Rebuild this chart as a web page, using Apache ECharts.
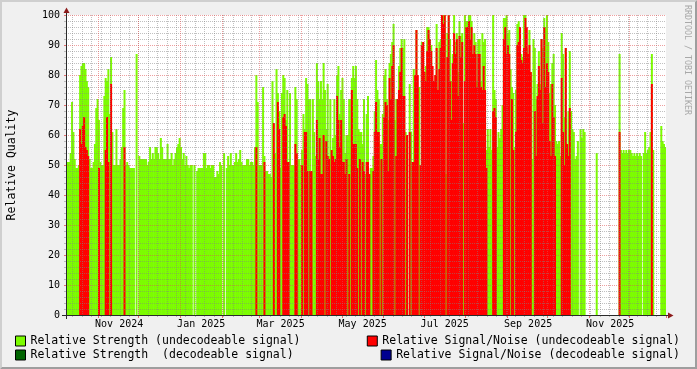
<!DOCTYPE html>
<html>
<head>
<meta charset="utf-8">
<script src="https://cdn.jsdelivr.net/npm/echarts@6/dist/echarts.min.js"></script>
<style>
html,body{margin:0;padding:0;background:#f0f0f0;}
#chart{width:697px;height:369px;}
</style>
</head>
<body>
<div id="chart"></div>
<script>
const _ = null;
// Daily categories: 446 days starting 2024-10-08
const startDate = '2024-10-08';
const dayCount = 446;
const tickLabels = ['Nov 2024', 'Jan 2025', 'Mar 2025', 'May 2025', 'Jul 2025', 'Sep 2025', 'Nov 2025'];
const yTicks = [0, 10, 20, 30, 40, 50, 60, 70, 80, 90, 100];

const nameStrengthU = 'Relative Strength (undecodeable signal)';
const nameStrengthD = 'Relative Strength  (decodeable signal)';
const nameSnrU = 'Relative Signal/Noise (undecodeable signal)';
const nameSnrD = 'Relative Signal/Noise (decodeable signal)';

// Relative Strength (undecodeable signal), one value per day
const strengthUndecodeable = [
  50,51,51,54,71,61,52,49,49,50,
  80,83,84,84,82,78,76,52,49,49,
  51,57,69,72,65,51,50,50,73,79,
  78,82,67,86,61,50,50,62,50,50,
  52,56,69,75,50,51,50,49,49,49,
  49,_,87,_,53,52,52,52,52,52,
  50,51,56,52,54,52,56,56,54,52,
  59,56,52,52,52,57,52,52,54,50,
  52,54,56,57,59,56,52,54,50,53,
  50,49,50,50,_,50,_,48,49,49,
  49,49,54,54,49,50,50,49,50,50,
  46,46,48,47,51,50,_,54,_,49,
  53,50,54,50,50,51,54,51,52,55,
  51,50,50,50,52,52,50,51,51,50,
  56,80,71,50,50,50,76,53,48,48,
  47,47,46,78,54,54,82,74,68,49,
  74,80,79,65,75,51,74,50,50,50,
  76,72,52,52,50,55,67,62,79,77,
  72,72,47,72,61,53,84,78,72,78,
  72,84,75,62,77,53,72,47,59,72,
  60,80,83,67,75,79,72,54,60,60,
  72,72,79,83,79,83,72,62,61,61,
  57,72,47,67,73,46,49,49,53,68,
  85,75,72,57,57,67,80,82,72,65,
  84,87,91,97,65,72,72,83,89,92,
  89,92,61,58,_,77,61,47,82,76,
  95,76,76,50,91,91,75,83,96,96,
  92,90,56,78,80,97,75,91,92,100,
  100,100,47,94,100,92,78,87,100,91,
  94,81,98,93,94,64,100,98,98,100,
  100,98,87,94,91,78,92,92,78,94,
  91,92,55,62,56,62,55,100,75,72,
  56,61,59,62,70,99,99,100,94,95,
  82,76,74,56,75,97,98,95,87,86,
  100,100,89,87,95,81,52,92,89,72,
  77,88,77,92,89,99,96,100,91,74,
  77,84,87,70,58,57,58,53,94,87,
  66,89,57,68,88,68,62,61,52,53,
  58,_,62,59,62,61,_,_,_,_,
  _,_,_,_,54,_,_,_,_,_,
  _,_,_,_,_,_,_,_,_,_,
  _,87,55,54,55,54,55,54,55,55,
  54,53,54,53,54,53,54,53,_,54,
  61,54,55,56,61,87,55,_,_,_,
  _,_,63,58,57,56
];

// Relative Signal/Noise (undecodeable signal), one value per day
const snrUndecodeable = [
  _,_,_,_,_,_,_,_,_,_,
  62,57,63,66,56,55,53,_,_,_,
  _,_,_,_,49,_,_,_,_,55,
  66,51,_,77,_,_,_,_,_,_,
  _,_,_,56,_,_,_,_,_,_,
  _,_,_,_,_,_,_,_,_,_,
  _,_,_,_,_,_,_,_,_,_,
  _,_,_,_,_,_,_,_,_,_,
  _,_,_,_,_,_,_,_,_,_,
  _,_,_,_,_,_,_,_,_,_,
  _,_,_,_,_,_,_,_,_,_,
  _,_,_,_,_,_,_,_,_,_,
  _,_,_,_,_,_,_,_,_,_,
  _,_,_,_,_,_,_,_,_,_,
  _,56,_,_,_,_,_,51,_,_,
  _,_,_,_,64,_,_,71,62,_,
  _,66,67,63,51,51,_,_,_,_,
  57,54,_,_,_,50,_,61,61,48,
  _,48,48,_,_,_,65,52,59,47,
  47,60,_,58,53,52,_,55,53,51,
  52,73,65,56,65,51,51,47,52,_,
  47,_,75,57,57,57,49,_,52,_,
  51,48,_,51,51,47,_,_,48,61,
  71,61,61,_,52,_,66,71,70,48,
  79,72,83,90,_,53,72,75,81,89,
  73,73,_,60,_,61,_,51,51,80,
  95,80,_,50,90,91,81,78,88,95,
  92,88,83,78,80,89,75,82,89,100,
  97,100,_,86,100,78,65,84,94,87,
  92,73,93,86,91,_,78,96,96,98,
  92,96,87,90,87,76,87,87,76,75,
  83,75,49,_,_,_,_,68,69,66,
  _,_,_,_,_,92,96,87,90,87,
  _,72,55,_,61,90,91,96,85,84,
  89,99,96,87,90,81,_,_,68,53,
  73,83,75,92,64,96,76,84,81,58,
  53,77,66,53,_,_,_,_,79,61,
  50,89,57,53,69,_,_,_,_,_,
  _,_,_,_,_,_,_,_,_,_,
  _,_,_,_,_,_,_,_,_,_,
  _,_,_,_,_,_,_,_,_,_,
  _,61,_,_,_,_,_,_,_,_,
  _,_,_,_,_,_,_,_,_,_,
  _,_,_,_,_,77,_,_,_,_,
  _,_,_,_,_,_
];

// Decodeable-signal series carry no data in this period
const strengthDecodeable = [];
const snrDecodeable = [];

const monthNames = ['Jan','Feb','Mar','Apr','May','Jun','Jul','Aug','Sep','Oct','Nov','Dec'];
const categories = [];
(function () {
  const p = startDate.split('-').map(Number);
  const t0 = Date.UTC(p[0], p[1] - 1, p[2]);
  for (let i = 0; i < dayCount; i++) {
    categories.push(new Date(t0 + i * 86400000).toISOString().slice(0, 10));
  }
})();
function fmtMonth(v) { return monthNames[+v.slice(5, 7) - 1] + ' ' + v.slice(0, 4); }
function isMonthStart(i, v) { return v.slice(8) === '01'; }
function isWeekStart(i, v) { return new Date(v + 'T00:00:00Z').getUTCDay() === 0; }
function isLabelDay(i, v) { return v.slice(8) === '16' && tickLabels.indexOf(fmtMonth(v)) >= 0; }

const FONT = 'DejaVu Sans Mono';
const MAJOR = 'rgba(224,80,80,0.55)';
const MINOR = 'rgba(130,130,130,0.5)';
const AXIS = '#2a2a2a';
const ARROW = '#8c1a1a';
const GL = 66, GT = 15, GW = 600, GH = 300;

const chart = echarts.init(document.getElementById('chart'), null, { renderer: 'canvas' });

function legendFor(name, pos) {
  return Object.assign({
    data: [name], orient: 'horizontal', padding: 0, itemGap: 0,
    itemWidth: 10, itemHeight: 10, icon: 'rect', selectedMode: false,
    itemStyle: { borderColor: '#000', borderWidth: 1 },
    textStyle: { fontFamily: FONT, fontSize: 11.5, color: '#000', lineHeight: 14, padding: [0, 0, 0, 0] }
  }, pos);
}

const option = {
  animation: false,
  backgroundColor: '#f0f0f0',
  textStyle: { fontFamily: FONT },
  grid: { left: GL, top: GT, width: GW, height: GH, show: true, backgroundColor: '#ffffff', borderWidth: 0, containLabel: false, outerBoundsMode: 'none' },
  legend: [
    legendFor(nameStrengthU, { left: 15, top: 334 }),
    legendFor(nameStrengthD, { left: 15, top: 348 }),
    legendFor(nameSnrU, { right: 17, top: 334 }),
    legendFor(nameSnrD, { right: 17, top: 348 })
  ],
  xAxis: [
    {
      type: 'category', data: categories, boundaryGap: true, z: 4,
      axisLine: { show: false },
      axisTick: { show: true, interval: isMonthStart, length: 3, lineStyle: { color: 'rgba(224,80,80,0.8)' } },
      axisLabel: { show: true, interval: isLabelDay, formatter: fmtMonth, margin: 4, fontSize: 10, color: '#000', fontFamily: FONT, hideOverlap: false },
      splitLine: { show: true, interval: isMonthStart, lineStyle: { color: MAJOR, width: 1, type: [1, 1] } }
    },
    {
      type: 'category', data: categories, boundaryGap: true, z: 3, position: 'bottom',
      axisLine: { show: false },
      axisTick: { show: true, interval: isWeekStart, length: 2, lineStyle: { color: MINOR } },
      axisLabel: { show: false },
      splitLine: { show: true, interval: isWeekStart, lineStyle: { color: MINOR, width: 1, type: [1, 1] } }
    }
  ],
  yAxis: {
    type: 'value', min: yTicks[0], max: yTicks[yTicks.length - 1], interval: yTicks[1] - yTicks[0], z: 4,
    axisLine: { show: false },
    axisTick: { show: true, length: 2, lineStyle: { color: 'rgba(224,80,80,0.8)' } },
    minorTick: { show: true, splitNumber: 5, length: 2, lineStyle: { color: MINOR } },
    axisLabel: { margin: 6, fontSize: 10, color: '#000', fontFamily: FONT },
    splitLine: { show: true, lineStyle: { color: MAJOR, width: 1, type: [1, 1] } },
    minorSplitLine: { show: true, lineStyle: { color: MINOR, width: 1, type: [1, 1] } }
  },
  series: [
    { name: nameStrengthU, type: 'bar', z: 1, data: strengthUndecodeable, barWidth: 2, barGap: '-100%', barCategoryGap: '0%', itemStyle: { color: '#7cfc00' }, silent: true },
    { name: nameStrengthD, type: 'bar', z: 1, data: strengthDecodeable, barWidth: 2, barGap: '-100%', itemStyle: { color: '#006400' }, silent: true },
    { name: nameSnrU, type: 'bar', z: 1, data: snrUndecodeable, barWidth: 2, barGap: '-100%', itemStyle: { color: '#ff0000' }, silent: true },
    { name: nameSnrD, type: 'bar', z: 1, data: snrDecodeable, barWidth: 2, barGap: '-100%', itemStyle: { color: '#000090' }, silent: true }
  ],
  graphic: [
    // hide the extra boundary split line at the right edge of the canvas
    { type: 'rect', z: 40, silent: true, shape: { x: GL + GW, y: 5, width: 1.6, height: GH + 9 }, style: { fill: '#f0f0f0' } },
    // axes
    { type: 'line', z: 50, silent: true, shape: { x1: GL - 4, y1: GT + GH + 0.5, x2: GL + GW + 4, y2: GT + GH + 0.5 }, style: { stroke: AXIS, lineWidth: 1 } },
    { type: 'line', z: 50, silent: true, shape: { x1: GL + 0.5, y1: GT + GH + 4, x2: GL + 0.5, y2: GT - 4 }, style: { stroke: AXIS, lineWidth: 1 } },
    { type: 'polygon', z: 51, silent: true, shape: { points: [[GL + GW + 2, GT + GH - 2.5], [GL + GW + 2, GT + GH + 3.5], [GL + GW + 7.5, GT + GH + 0.5]] }, style: { fill: ARROW } },
    { type: 'polygon', z: 51, silent: true, shape: { points: [[GL - 2.5, GT - 2], [GL + 3.5, GT - 2], [GL + 0.5, GT - 7.5]] }, style: { fill: ARROW } },
    // 3D frame
    { type: 'polygon', z: 60, silent: true, shape: { points: [[0, 369], [2, 367], [2, 2], [695, 2], [697, 0], [0, 0]] }, style: { fill: '#cfcfcf' } },
    { type: 'polygon', z: 60, silent: true, shape: { points: [[2, 367], [695, 367], [695, 2], [697, 0], [697, 369], [0, 369]] }, style: { fill: '#9e9e9e' } },
    // vertical axis title
    { type: 'text', z: 50, silent: true, x: 12, y: GT + GH / 2, rotation: Math.PI / 2,
      style: { text: 'Relative Quality', fontFamily: FONT, fontSize: 11.5, fill: '#000', textAlign: 'center', textVerticalAlign: 'middle' } },
    // watermark
    { type: 'text', z: 50, silent: true, x: 687.5, y: 5, rotation: -Math.PI / 2,
      style: { text: 'RRDTOOL / TOBI OETIKER', fontFamily: FONT, fontSize: 8.3, fill: '#a8a8a8', textAlign: 'left', textVerticalAlign: 'middle' } }
  ]
};
chart.setOption(option);
</script>
</body>
</html>
